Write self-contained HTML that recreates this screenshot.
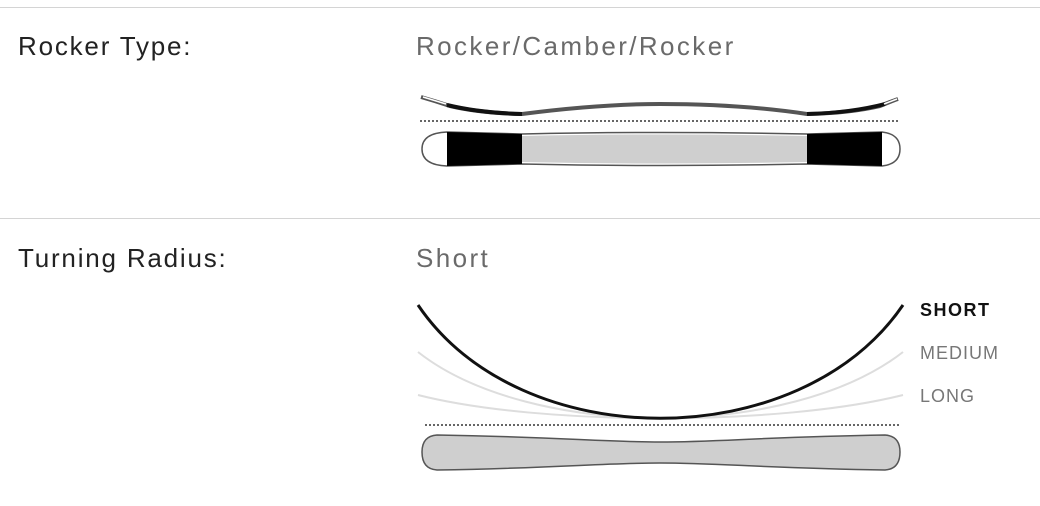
<!DOCTYPE html>
<html><head><style>
body{margin:0;width:1040px;height:506px;background:#fff;font-family:"Liberation Sans",sans-serif;position:relative;overflow:hidden}
.hr{position:absolute;left:0;width:1040px;height:1px;background:#d4d4d4}
.l{position:absolute;left:18px;font-size:26px;color:#222;letter-spacing:1.8px}
.v{position:absolute;left:416px;font-size:26px;color:#6a6a6a;letter-spacing:2.4px}
</style></head><body>
<div class="hr" style="top:7px"></div>
<div class="hr" style="top:218px"></div>
<div class="l" style="top:31px">Rocker Type:</div>
<div class="v" style="top:31px">Rocker/Camber/Rocker</div>
<div class="l" style="top:243px">Turning Radius:</div>
<div class="v" style="top:243px">Short</div>
<svg width="1040" height="506" style="position:absolute;left:0;top:0">
 <path d="M421,97 Q435,101 450,106 Q480,113 522,114 Q600,104 660,104 Q740,104 807,114 Q850,113 880,106 Q892,101 898,99" fill="none" stroke="#555" stroke-width="4"/>
 <path d="M447,105 Q480,113 522,114" fill="none" stroke="#111" stroke-width="4"/>
 <path d="M807,114 Q850,113 885,104" fill="none" stroke="#111" stroke-width="4"/>
 <path d="M423,97 L446,104" stroke="#fff" stroke-width="1.5"/>
 <path d="M884,104 L897,99" stroke="#fff" stroke-width="1.5"/>
 <line x1="420" y1="121" x2="900" y2="121" stroke="#666" stroke-width="2" stroke-dasharray="2,2"/>
 <path d="M447,132 L522,134 Q660,131 807,134 L882,132 Q900,134 900,149 Q900,164 882,166 L807,164 Q660,167 522,164 L447,166 Q422,165 422,149 Q422,133 447,132 Z" fill="#fff" stroke="#555" stroke-width="1.5"/>
 <path d="M447,132 L522,134 L522,164 L447,166 Z" fill="#000"/>
 <path d="M807,134 L882,132 L882,166 L807,164 Z" fill="#000"/>
 <path d="M522,136 Q660,133 807,136 L807,162 Q660,165 522,162 Z" fill="#cfcfcf"/>
 <path d="M418,395 C540,426 780,426 903,395" fill="none" stroke="#ddd" stroke-width="2"/>
 <path d="M418,352 C530,440 790,440 903,352" fill="none" stroke="#ddd" stroke-width="2"/>
 <path d="M418,305 C520,456 800,456 903,305" fill="none" stroke="#111" stroke-width="3"/>
 <line x1="425" y1="425" x2="900" y2="425" stroke="#666" stroke-width="2" stroke-dasharray="2,2"/>
 <path d="M437,435 C560,437 600,442 660,442 C720,442 760,437 885,435 Q900,436 900,452 Q900,469 885,470 C760,468 720,463 660,463 C600,463 560,468 437,470 Q422,469 422,452 Q422,436 437,435 Z" fill="#cfcfcf" stroke="#555" stroke-width="1.5"/>
 <text x="920" y="316" font-family="Liberation Sans" font-size="18" font-weight="bold" fill="#111" letter-spacing="1.5">SHORT</text>
 <text x="920" y="359" font-family="Liberation Sans" font-size="18" fill="#777" letter-spacing="1">MEDIUM</text>
 <text x="920" y="402" font-family="Liberation Sans" font-size="18" fill="#777" letter-spacing="1">LONG</text>
</svg>
</body></html>
